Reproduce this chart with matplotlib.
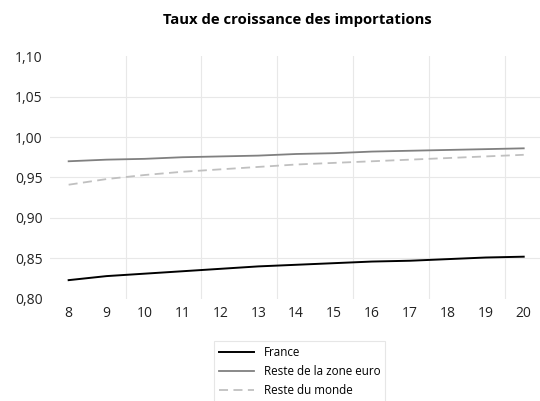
import numpy as np
import matplotlib.pyplot as plt
from matplotlib.ticker import FuncFormatter

plt.rcParams['font.family'] = ['Open Sans', 'DejaVu Sans']

years = [8, 9, 10, 11, 12, 13, 14, 15, 16, 17, 18, 19, 20]
france = [0.823, 0.828, 0.831, 0.834, 0.837, 0.840, 0.842, 0.844, 0.846, 0.847, 0.849, 0.851, 0.852]
zone_euro = [0.970, 0.972, 0.973, 0.975, 0.976, 0.977, 0.979, 0.980, 0.982, 0.983, 0.984, 0.985, 0.986]
monde = [0.941, 0.948, 0.953, 0.957, 0.960, 0.963, 0.966, 0.968, 0.970, 0.972, 0.974, 0.976, 0.978]

fig = plt.figure(figsize=(5.4, 4.01), dpi=100)
ax = fig.add_axes([0.092, 0.255, 0.92, 0.605])

ax.plot(years, france, color='black', lw=1.4, label='France')
ax.plot(years, zone_euro, color='#808080', lw=1.3, label='Reste de la zone euro')
ax.plot(years, monde, color='#c0c0c0', lw=1.3, ls=(0, (5, 3)), label='Reste du monde')

ax.set_xlim(7.5, 20.6)
ax.set_ylim(0.80, 1.10)
ax.set_xticks(years)
ax.set_yticks(np.arange(0.80, 1.101, 0.05))
ax.yaxis.set_major_formatter(FuncFormatter(lambda v, p: f'{v:.2f}'.replace('.', ',')))

for yv in [0.85, 0.90, 0.95, 1.00, 1.05]:
    ax.axhline(yv, color='#e8e8e8', lw=0.8, zorder=0)
for xv in np.arange(9.5, 20, 2):
    ax.axvline(xv, color='#e8e8e8', lw=0.8, zorder=0)

for s in ax.spines.values():
    s.set_visible(False)
ax.tick_params(length=0, labelsize=10, colors='#222222', pad=5)
ax.tick_params(axis='x', pad=5)

fig.text(0.55, 0.95, 'Taux de croissance des importations', ha='center', va='center',
         fontsize=10.7, fontweight='bold')

leg = fig.legend(loc='upper center', bbox_to_anchor=(0.555, 0.165), fontsize=8.4,
                 frameon=True, fancybox=False, edgecolor='#e0e0e0', handlelength=3.0,
                 borderpad=0.45, labelspacing=0.52)
leg.get_frame().set_linewidth(0.8)

fig.savefig('out.png', dpi=100)
